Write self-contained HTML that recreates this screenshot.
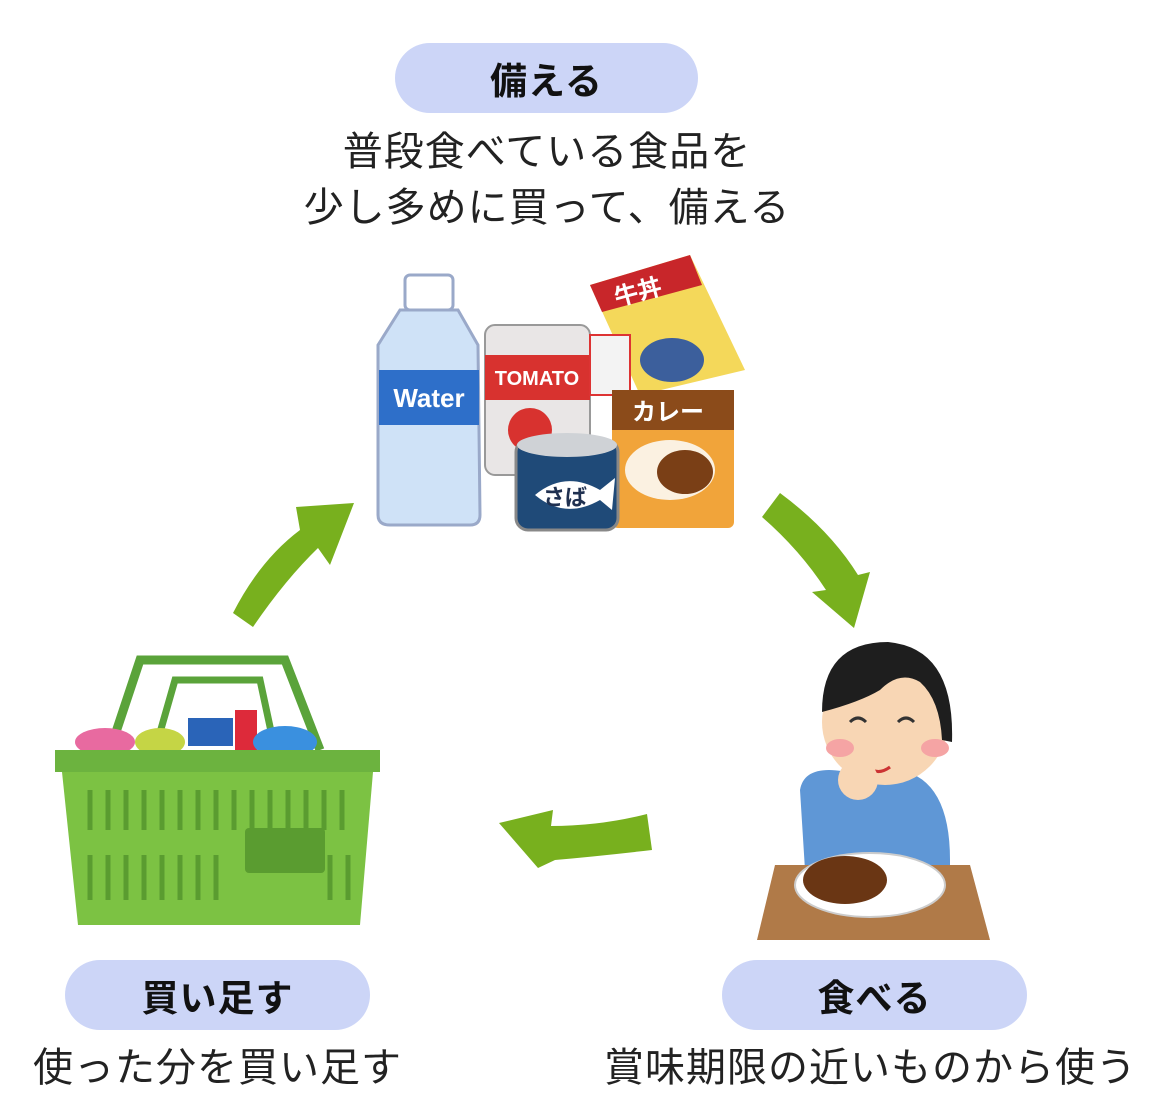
<!DOCTYPE html>
<html><head><meta charset="utf-8"><style>
body{margin:0;background:#fff;width:1169px;height:1108px;overflow:hidden;position:relative;font-family:"Liberation Sans","Noto Sans CJK JP",sans-serif;color:#222}
.pill{position:absolute;background:#ccd5f7;border-radius:36px;height:70px;display:flex;align-items:center;justify-content:center;font-weight:bold;font-size:37px;color:#111;letter-spacing:1px}
.t{position:absolute;font-size:40px;letter-spacing:1px;white-space:nowrap;color:#222;line-height:1}
svg{position:absolute;left:0;top:0}
</style></head><body>
<svg width="1169" height="1108" viewBox="0 0 1169 1108">
<g fill="#78b01e">
<path d="M233,613 Q260,560 300,530 L296,507 L354,503 L330,565 L318,548 Q285,580 253,627 Z"/>
<path d="M762,517 L780,493 Q830,530 858,575 L870,572 L854,628 L812,592 L826,590 Q800,550 762,517 Z"/>
<path d="M647,814 L652,850 Q600,856 555,860 L538,868 L499,823 L553,810 L551,826 Q600,826 647,814 Z"/>
</g>
<rect x="405" y="275" width="48" height="35" rx="5" fill="#fff" stroke="#9aa9c9" stroke-width="3"/>
<path d="M400,310 L458,310 L478,345 L480,515 Q480,525 470,525 L390,525 Q378,525 378,515 L378,345 Z" fill="#cfe2f7" stroke="#9aa9c9" stroke-width="3"/>
<rect x="379" y="370" width="100" height="55" fill="#2e6fc9"/>
<text x="429" y="407" font-family="Liberation Sans" font-weight="bold" font-size="26" fill="#fff" text-anchor="middle">Water</text>
<rect x="485" y="325" width="105" height="150" rx="10" fill="#e9e6e6" stroke="#999" stroke-width="2"/>
<rect x="485" y="355" width="105" height="45" fill="#d8322f"/>
<text x="537" y="385" font-family="Liberation Sans" font-weight="bold" font-size="20" fill="#fff" text-anchor="middle">TOMATO</text>
<circle cx="530" cy="430" r="22" fill="#d8322f"/>
<path d="M590,285 L690,255 L745,370 L640,395 Z" fill="#f4d85a"/>
<path d="M590,285 L690,255 L702,285 L602,312 Z" fill="#c8262a"/>
<text x="640" y="300" font-family="Noto Sans CJK JP" font-weight="bold" font-size="24" fill="#fff" text-anchor="middle" transform="rotate(-15 640 300)">牛丼</text>
<ellipse cx="672" cy="360" rx="32" ry="22" fill="#3c5f9c"/>
<rect x="590" y="335" width="40" height="60" fill="#f3f3f3" stroke="#d33" stroke-width="2"/>
<rect x="612" y="390" width="122" height="138" rx="6" fill="#f1a43a"/>
<rect x="612" y="390" width="122" height="40" fill="#8b4b1a"/>
<text x="668" y="420" font-family="Noto Sans CJK JP" font-weight="bold" font-size="24" fill="#fff" text-anchor="middle">カレー</text>
<ellipse cx="670" cy="470" rx="45" ry="30" fill="#fbf1e1"/>
<ellipse cx="685" cy="472" rx="28" ry="22" fill="#7a3f16"/>
<rect x="516" y="440" width="102" height="90" rx="12" fill="#1f4a78" stroke="#888" stroke-width="3"/>
<ellipse cx="567" cy="445" rx="50" ry="12" fill="#cfd2d6"/>
<path d="M535,495 Q565,470 600,490 L615,478 L612,510 L600,500 Q565,520 535,495 Z" fill="#fff"/>
<text x="565" y="505" font-family="Noto Sans CJK JP" font-weight="bold" font-size="22" fill="#1f3050" text-anchor="middle">さば</text>
<path d="M110,750 L140,660 L285,660 L320,750" fill="none" stroke="#5aa33a" stroke-width="9"/>
<path d="M155,750 L175,680 L260,680 L275,750" fill="none" stroke="#5aa33a" stroke-width="7"/>
<ellipse cx="105" cy="742" rx="30" ry="14" fill="#e86aa0"/>
<ellipse cx="160" cy="742" rx="25" ry="14" fill="#c5d545"/>
<rect x="188" y="718" width="45" height="28" fill="#2a64b8"/>
<rect x="235" y="710" width="22" height="40" fill="#dd2a3a"/>
<ellipse cx="285" cy="742" rx="32" ry="16" fill="#3a90df"/>
<rect x="55" y="750" width="325" height="22" fill="#6cb33f"/>
<path d="M62,772 L373,772 L360,925 L78,925 Z" fill="#7cc243"/>
<g stroke="#5a9c30" stroke-width="5">
<path d="M90,790 v40 M108,790 v40 M126,790 v40 M144,790 v40 M162,790 v40 M180,790 v40 M198,790 v40 M216,790 v40 M234,790 v40 M252,790 v40 M270,790 v40 M288,790 v40 M306,790 v40 M324,790 v40 M342,790 v40"/>
<path d="M90,855 v45 M108,855 v45 M126,855 v45 M144,855 v45 M162,855 v45 M180,855 v45 M198,855 v45 M216,855 v45 M330,855 v45 M348,855 v45"/>
</g>
<rect x="245" y="828" width="80" height="45" rx="4" fill="#5a9c30"/>
<path d="M800,790 Q805,760 860,775 L900,770 Q950,780 950,860 L950,870 L805,870 Z" fill="#5f97d6"/>
<circle cx="885" cy="722" r="63" fill="#f8d6b4"/>
<path d="M822,712 Q822,642 888,642 Q955,648 952,742 L942,740 Q940,700 920,682 Q900,670 880,690 Q860,702 822,712 Z" fill="#1e1e1e"/>
<ellipse cx="840" cy="748" rx="14" ry="9" fill="#f5a4a4"/>
<ellipse cx="935" cy="748" rx="14" ry="9" fill="#f5a4a4"/>
<path d="M850,722 q8,-8 16,0 M898,722 q8,-8 16,0" stroke="#333" stroke-width="3" fill="none"/>
<path d="M865,765 q12,12 25,2" stroke="#c33" stroke-width="3" fill="none"/>
<circle cx="858" cy="780" r="20" fill="#f8d6b4"/>
<path d="M775,865 L970,865 L990,940 L757,940 Z" fill="#b07a48"/>
<ellipse cx="870" cy="885" rx="75" ry="32" fill="#fff" stroke="#ccc" stroke-width="2"/>
<ellipse cx="845" cy="880" rx="42" ry="24" fill="#6a3614"/>
</svg>
<div class="pill" style="left:395px;top:43px;width:303px">備える</div>
<div class="t" style="left:0;width:1094px;text-align:center;top:132px">普段食べている食品を</div>
<div class="t" style="left:0;width:1094px;text-align:center;top:188px">少し多めに買って、備える</div>
<div class="pill" style="left:65px;top:960px;width:305px">買い足す</div>
<div class="t" style="left:33px;top:1048px">使った分を買い足す</div>
<div class="pill" style="left:722px;top:960px;width:305px">食べる</div>
<div class="t" style="left:604px;top:1048px">賞味期限の近いものから使う</div>
</body></html>
